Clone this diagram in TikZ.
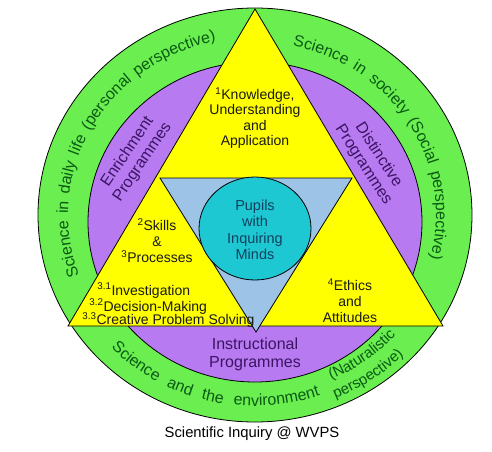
\documentclass[tikz,border=0pt]{standalone}
\usepackage{fontspec}
\setmainfont{Liberation Sans}
\usetikzlibrary{decorations.text,calc}
\definecolor{bandgreen}{HTML}{6AEE50}
\definecolor{bandpurple}{HTML}{B77AF0}
\definecolor{triyellow}{HTML}{FFFF00}
\definecolor{innerblue}{HTML}{9DC3E6}
\definecolor{corecyan}{HTML}{1EC8D2}
\definecolor{greentext}{HTML}{0A5A14}
\definecolor{purpletext}{HTML}{3C1464}
\definecolor{cyantext}{HTML}{12405E}
\definecolor{tritext}{HTML}{1A1A1A}
\newcommand\bandfont{\fontsize{16}{16}\selectfont}
\newcommand\natfont{\fontsize{15}{15}\selectfont}
\begin{document}
\begin{tikzpicture}[x=1pt,y=1pt,line width=0.8pt,
  outline/.style={draw=black},
  tri/.style={font=\fontsize{14}{16}\selectfont, text=tritext, align=center, inner sep=0pt},
  trisingle/.style={font=\fontsize{14}{16}\selectfont, text=tritext, inner sep=0pt, anchor=base west},
  purp/.style={font=\fontsize{16}{18}\selectfont, text=purpletext, align=center, inner sep=0pt},
  core/.style={font=\fontsize{14.5}{16.5}\selectfont, text=cyantext, align=center, inner sep=0pt},
  bandtext/.style={decorate, decoration={text along path, text color=greentext,
      text align={fit to path stretching spaces}, text={|\bandfont|#1}}},
  bandtextc/.style={decorate, decoration={text along path, text color=greentext,
      text align=center, text={|\natfont|#1}}}
]
\useasboundingbox (0,0) rectangle (492,451);
\fill[white] (0,0) rectangle (492,451);
\coordinate (C) at (255,236);
\coordinate (P) at (255,229);
\coordinate (K) at (255,222.5);
% rings
\draw[outline, fill=bandgreen] (C) ellipse [x radius=217, y radius=207];
\draw[outline, fill=bandpurple] (P) ellipse [x radius=167, y radius=160];
% triangles
\coordinate (TA) at (255,442);
\coordinate (TL) at (68,125);
\coordinate (TR) at (443,125);
\draw[outline, fill=triyellow] (TA) -- (TL) -- (TR) -- cycle;
\coordinate (IL) at (160,273);
\coordinate (IR) at (352,273);
\coordinate (IB) at (256,119);
\draw[outline, fill=innerblue] (IL) -- (IR) -- (IB) -- cycle;
\draw[outline, fill=corecyan] (K) ellipse [x radius=56, y radius=51.5];
% curved band texts
\path[bandtext={Science in daily life (personal perspective)}]
  ($(C)+(200:187 and 178)$) arc[start angle=200, end angle=102, x radius=187, y radius=178];
\path[bandtext={Science in society (Social perspective)}]
  ($(C)+(78:181 and 173)$) arc[start angle=78, end angle=-14.5, x radius=181, y radius=173];
\path[bandtext={Science and the environment}]
  ($(C)+(224:200 and 191)$) arc[start angle=224, end angle=289, x radius=200, y radius=191];
\path[bandtextc={(Naturalistic}]
  ($(C)+(292:189 and 180)$) arc[start angle=292, end angle=320, x radius=189, y radius=180];
\path[bandtextc={perspective)}]
  ($(C)+(291:209 and 199)$) arc[start angle=291, end angle=317, x radius=209, y radius=199];
% purple band texts
\node[purp, rotate=56] (enrich) at (135,294) {Enrichment\\Programmes};
\node[purp, rotate=-57] (distinct) at (371,291) {Distinctive\\Programmes};
\node[purp] (instr) at (255,97) {Instructional\\Programmes};
% triangle texts
\node[tri, font=\fontsize{14}{15.5}\selectfont] (know) at (255,333) {\textsuperscript{1}Knowledge,\\Understanding\\and\\Application};
\node[tri] (skills) at (157,210) {\textsuperscript{2}Skills\\\&\\\textsuperscript{3}Processes};
\node[trisingle] (inv) at (97,156) {\textsuperscript{3.1}Investigation};
\node[trisingle] (dec) at (89,140) {\textsuperscript{3.2}Decision-Making};
\node[trisingle] (cps) at (82,126.5) {\textsuperscript{3.3}Creative Problem Solving};
\node[tri] (ethics) at (350,150) {\textsuperscript{4}Ethics\\and\\Attitudes};
\node[core] (pupils) at (255,221) {Pupils\\with\\Inquiring\\Minds};
% caption
\node[font=\fontsize{14.8}{16}\selectfont, text=black, inner sep=0pt] (caption) at (252,17) {Scientific Inquiry @ WVPS};
\end{tikzpicture}
\end{document}
